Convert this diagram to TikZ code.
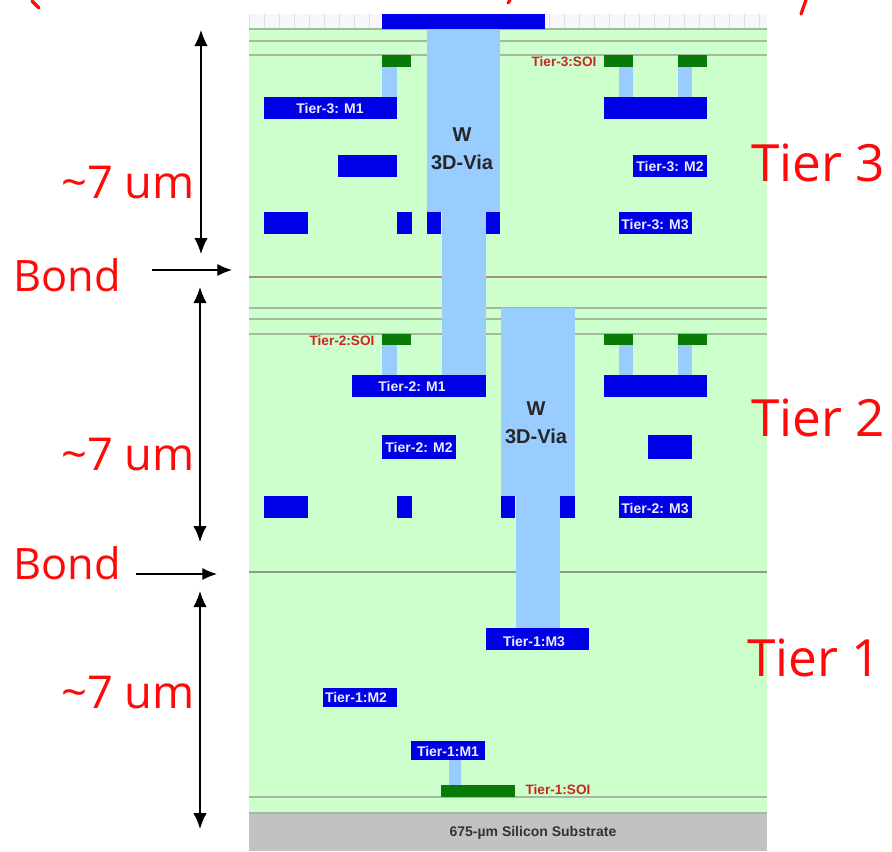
\documentclass[tikz,border=0pt]{standalone}
\usepackage{fontspec}
\setmainfont{Liberation Sans}
\newfontfamily\handfont{Open Sans}
\usetikzlibrary{arrows.meta}
\definecolor{bgreen}{HTML}{CCFFCC}
\definecolor{viab}{HTML}{99CCFF}
\definecolor{metal}{HTML}{0000E6}
\definecolor{soi}{HTML}{087A08}
\definecolor{lne}{HTML}{A3B8A0}
\definecolor{redt}{HTML}{FF0A0A}
\tikzset{x=0.75pt,y=-0.75pt,
 via/.style={fill=viab,draw=none},
 metalr/.style={fill=metal,draw=none},
 soir/.style={fill=soi,draw=none},
 lay/.style={draw=lne,line width=1.1pt},
 mlabel/.style={text=white!92!blue,font=\bfseries\fontsize{10.5}{11}\selectfont,inner sep=0},
 soilabel/.style={text=red!75!black!85!white,font=\bfseries\fontsize{10.2}{11}\selectfont,inner sep=0},
 vlabel/.style={text=black!85,font=\bfseries\fontsize{15}{21}\selectfont,align=center,inner sep=0},
 big/.style={text=redt,inner sep=0},
 bigtier/.style={big,font=\handfont\fontsize{38.5}{40}\selectfont},
 bigum/.style={big,font=\handfont\fontsize{34}{40}\selectfont},
 bigbond/.style={big,font=\handfont\fontsize{32.5}{40}\selectfont},
 dim/.style={draw=black,line width=0.9pt,{Latex[length=12pt,width=10pt]}-{Latex[length=12pt,width=10pt]}},
 dimone/.style={draw=black,line width=0.9pt,-{Latex[length=11pt,width=9pt]}},
 frag/.style={draw=redt,line width=2.4pt,line cap=round}}
\newcommand{\bx}[5]{\fill[#1] (#2,#3) rectangle (#4,#5);}
\begin{document}
\begin{tikzpicture}
\useasboundingbox (0,0) rectangle (892,851);
\fill[white] (0,0) rectangle (892,851);
% clipped text fragments above
\draw[frag] (32,1) -- (39,8);
\draw[frag] (510,0) -- (508,3);
\draw[frag] (806,0) -- (801,14);
% background
\bx{bgreen}{249}{28}{767}{814}
\fill[black!3] (249,14) rectangle (767,28);
\foreach \i in {0,...,34} \draw[black!12,line width=0.4pt] (249+\i*15,14) -- (249+\i*15,28);
\foreach \y in {29,41,55,308,319,334,797} \draw[lay] (249,\y) -- (767,\y);
\draw[draw=lne!85!black,line width=1.2pt] (249,572) -- (767,572);
\draw[draw=lne,line width=1.1pt] (249,813) -- (767,813);
\draw[draw={rgb,255:red,170;green,140;blue,140},line width=1.6pt] (249,277) -- (767,277);
\fill[black!24] (249,814) rectangle (767,851);
\node[text=black!80,font=\bfseries\fontsize{10.5}{11}\selectfont,inner sep=0] (sub) at (533,833) {675-µm Silicon Substrate};
% vias
\bx{via}{427}{29}{500}{212}
\bx{via}{442}{212}{486}{375}
\bx{via}{501}{308}{575}{496}
\bx{via}{516}{496}{560}{628}
\bx{via}{382}{67}{397}{97}
\bx{via}{619}{67}{633}{97}
\bx{via}{678}{67}{692}{97}
\bx{via}{382}{345}{397}{375}
\bx{via}{619}{345}{633}{375}
\bx{via}{678}{345}{692}{375}
\bx{via}{449}{760}{461}{787}
% top pad
\bx{metalr}{382}{14}{545}{29}
% soi
\bx{soir}{382}{55}{411}{67}
\bx{soir}{604}{55}{633}{67}
\bx{soir}{678}{55}{707}{67}
\bx{soir}{382}{334}{411}{345}
\bx{soir}{604}{334}{633}{345}
\bx{soir}{678}{334}{707}{345}
\bx{soir}{441}{785}{515}{797}
% tier 3 metals
\bx{metalr}{264}{97}{397}{119}
\bx{metalr}{604}{97}{707}{119}
\bx{metalr}{338}{155}{397}{177}
\bx{metalr}{633}{155}{707}{177}
\bx{metalr}{264}{212}{308}{234}
\bx{metalr}{397}{212}{412}{234}
\bx{metalr}{427}{212}{441}{234}
\bx{metalr}{486}{212}{500}{234}
\bx{metalr}{619}{212}{692}{234}
% tier 2 metals
\bx{metalr}{352}{375}{486}{397}
\bx{metalr}{604}{375}{707}{397}
\bx{metalr}{382}{435}{456}{459}
\bx{metalr}{648}{435}{692}{459}
\bx{metalr}{264}{496}{308}{518}
\bx{metalr}{397}{496}{412}{518}
\bx{metalr}{501}{496}{515}{518}
\bx{metalr}{560}{496}{575}{518}
\bx{metalr}{619}{496}{692}{518}
% tier 1 metals
\bx{metalr}{486}{628}{589}{650}
\bx{metalr}{323}{688}{397}{707}
\bx{metalr}{411}{741}{485}{760}
% labels
\node[mlabel] (t3m1) at (330,108) {Tier-3: M1};
\node[mlabel] (t3m2) at (670,166) {Tier-3: M2};
\node[mlabel] (t3m3) at (655,224) {Tier-3: M3};
\node[mlabel] (t2m1) at (412,386) {Tier-2: M1};
\node[mlabel] (t2m2) at (419,447) {Tier-2: M2};
\node[mlabel] (t2m3) at (655,508) {Tier-2: M3};
\node[mlabel] (t1m3) at (534,641) {Tier-1:M3};
\node[mlabel] (t1m2) at (356,697) {Tier-1:M2};
\node[mlabel] (t1m1) at (448,751) {Tier-1:M1};
\node[soilabel] (s3) at (564,62) {Tier-3:SOI};
\node[soilabel] (s2) at (342,341) {Tier-2:SOI};
\node[soilabel] (s1) at (558,790) {Tier-1:SOI};
\node[vlabel] (v3) at (462,149) {W\\3D-Via};
\node[vlabel] (v2) at (536,423) {W\\3D-Via};
% red text
\node[bigtier] (tier3) at (818,163) {Tier 3};
\node[bigtier] (tier2) at (818,418) {Tier 2};
\node[bigtier] (tier1) at (814,658) {Tier 1};
\node[bigum] (um3) at (128,183) {\textasciitilde7 um};
\node[bigum] (um2) at (128,455) {\textasciitilde7 um};
\node[bigum] (um1) at (128,693) {\textasciitilde7 um};
\node[bigbond] (bond2) at (67,275) {Bond};
\node[bigbond] (bond1) at (67,563) {Bond};
% arrows
\coordinate (a1) at (201,30); \coordinate (a2) at (201,254);
\coordinate (b1) at (200,287); \coordinate (b2) at (200,542);
\coordinate (c1) at (200,591); \coordinate (c2) at (200,829);
\coordinate (d1) at (152,270); \coordinate (d2) at (232,270);
\coordinate (e1) at (136,574); \coordinate (e2) at (217,574);
\draw[dim] (a1) -- (a2);
\draw[dim] (b1) -- (b2);
\draw[dim] (c1) -- (c2);
\draw[dimone] (d1) -- (d2);
\draw[dimone] (e1) -- (e2);
\end{tikzpicture}
\end{document}
